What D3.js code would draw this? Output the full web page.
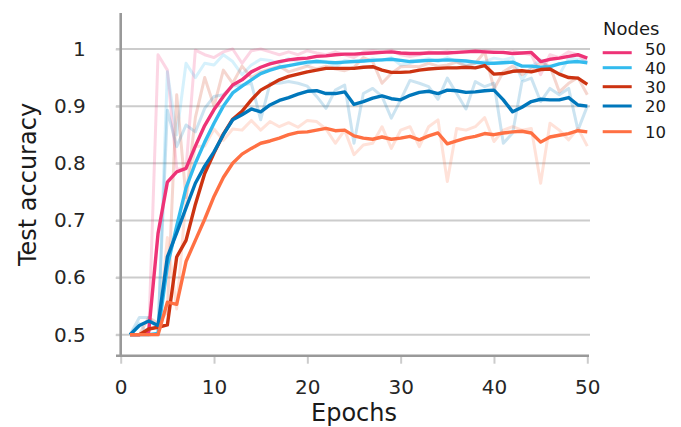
<!DOCTYPE html>
<html>
<head>
<meta charset="utf-8">
<script src="https://cdn.jsdelivr.net/npm/d3@7"></script>
<style>
  body { margin: 0; background: #fff; }
  svg { font-family: "DejaVu Sans", sans-serif; }
</style>
</head>
<body>
<svg id="chart" width="681" height="427"></svg>
<script>
// epochs on the x axis
const epochs = [1, 2, 3, 4, 5, 6, 7, 8, 9, 10, 11, 12, 13, 14, 15, 16, 17, 18, 19, 20,
  21, 22, 23, 24, 25, 26, 27, 28, 29, 30, 31, 32, 33, 34, 35, 36, 37, 38, 39, 40,
  41, 42, 43, 44, 45, 46, 47, 48, 49, 50]

// raw (faded) test accuracy per number of nodes
const raw50 = [0.5, 0.5, 0.5, 0.99, 0.963, 0.79, 0.79, 0.998, 0.99, 0.985, 0.995, 1.0, 0.975, 0.997, 1.0, 0.995, 0.99, 0.995, 0.99, 0.997,
  0.993, 0.99, 0.995, 0.99, 0.985, 0.995, 0.997, 0.995, 0.998, 0.99, 0.987, 0.99, 0.995, 0.993, 0.996, 0.993, 0.996, 0.996, 0.997, 0.995,
  0.993, 0.996, 0.993, 0.99, 0.955, 0.99, 0.985, 0.995, 0.99, 0.975]
const raw40 = [0.5, 0.52, 0.5, 0.5, 0.96, 0.85, 0.975, 0.95, 0.975, 0.972, 0.99, 0.978, 0.955, 0.972, 0.982, 0.98, 0.975, 0.983, 0.978, 0.972,
  0.98, 0.978, 0.968, 0.98, 0.978, 0.978, 0.983, 0.98, 0.985, 0.972, 0.975, 0.98, 0.983, 0.978, 0.985, 0.978, 0.972, 0.975, 0.978, 0.984,
  0.981, 0.985, 0.946, 0.969, 0.981, 0.966, 0.955, 0.984, 0.982, 0.978]
const raw30 = [0.5, 0.5, 0.53, 0.52, 0.54, 0.92, 0.74, 0.88, 0.95, 0.9, 0.963, 0.94, 0.97, 0.95, 0.96, 0.965, 0.97, 0.96, 0.965, 0.97,
  0.965, 0.97, 0.965, 0.962, 0.968, 0.985, 0.978, 0.94, 0.957, 0.969, 0.97, 0.969, 0.975, 0.97, 0.972, 0.977, 0.97, 0.975, 0.995, 0.93,
  0.96, 0.97, 0.955, 0.965, 0.975, 0.97, 0.925, 0.94, 0.95, 0.92]
const raw20 = [0.5, 0.53, 0.53, 0.51, 0.893, 0.829, 0.867, 0.855, 0.896, 0.917, 0.92, 0.935, 0.937, 0.94, 0.876, 0.94, 0.94, 0.943, 0.94, 0.935,
  0.917, 0.896, 0.928, 0.937, 0.835, 0.922, 0.931, 0.917, 0.879, 0.911, 0.945, 0.94, 0.934, 0.912, 0.949, 0.922, 0.895, 0.943, 0.934, 0.94,
  0.835, 0.853, 0.943, 0.949, 0.908, 0.931, 0.92, 0.931, 0.858, 0.9]
const raw10 = [0.5, 0.5, 0.5, 0.5, 0.67, 0.545, 0.74, 0.83, 0.83, 0.86, 0.84, 0.86, 0.858, 0.875, 0.858, 0.873, 0.864, 0.871, 0.863, 0.875,
  0.873, 0.86, 0.835, 0.858, 0.815, 0.832, 0.835, 0.864, 0.826, 0.858, 0.864, 0.829, 0.864, 0.876, 0.768, 0.861, 0.858, 0.864, 0.88, 0.838,
  0.858, 0.864, 0.858, 0.861, 0.765, 0.87, 0.858, 0.841, 0.861, 0.83]

// smoothed (bold) curves
const smooth50 = [0.5, 0.5, 0.505, 0.677, 0.767, 0.785, 0.791, 0.83, 0.866, 0.894, 0.917, 0.937, 0.946, 0.96, 0.968, 0.974, 0.978, 0.981, 0.983, 0.984,
  0.987, 0.988, 0.99, 0.991, 0.991, 0.992, 0.993, 0.994, 0.995, 0.993, 0.992, 0.992, 0.993, 0.993, 0.993, 0.994, 0.995, 0.996, 0.995, 0.994,
  0.994, 0.992, 0.993, 0.994, 0.978, 0.982, 0.984, 0.987, 0.99, 0.984]
const smooth40 = [0.5, 0.5, 0.5, 0.502, 0.62, 0.69, 0.757, 0.8, 0.837, 0.87, 0.9, 0.923, 0.935, 0.946, 0.957, 0.963, 0.968, 0.971, 0.974, 0.977,
  0.978, 0.977, 0.976, 0.977, 0.978, 0.979, 0.98, 0.981, 0.982, 0.98, 0.978, 0.979, 0.98, 0.98, 0.981, 0.98, 0.979, 0.977, 0.975, 0.975,
  0.976, 0.977, 0.97, 0.97, 0.968, 0.969, 0.974, 0.977, 0.978, 0.976]
const smooth30 = [0.5, 0.5, 0.51, 0.513, 0.517, 0.636, 0.665, 0.728, 0.782, 0.818, 0.851, 0.877, 0.891, 0.911, 0.928, 0.937, 0.946, 0.952, 0.956, 0.96,
  0.963, 0.966, 0.966, 0.966, 0.966, 0.968, 0.969, 0.963, 0.959, 0.959, 0.96, 0.963, 0.965, 0.966, 0.967, 0.967, 0.968, 0.967, 0.971, 0.956,
  0.957, 0.961, 0.962, 0.96, 0.964, 0.965, 0.956, 0.95, 0.949, 0.938]
const smooth20 = [0.5, 0.516, 0.524, 0.516, 0.636, 0.678, 0.722, 0.765, 0.795, 0.82, 0.85, 0.876, 0.885, 0.895, 0.89, 0.902, 0.91, 0.915, 0.921, 0.926,
  0.927, 0.922, 0.922, 0.925, 0.903, 0.908, 0.914, 0.918, 0.913, 0.911, 0.919, 0.924, 0.926, 0.922, 0.928, 0.927, 0.924, 0.925, 0.927, 0.928,
  0.911, 0.89, 0.898, 0.908, 0.912, 0.911, 0.911, 0.915, 0.902, 0.9]
const smooth10 = [0.5, 0.5, 0.5, 0.5, 0.557, 0.553, 0.628, 0.665, 0.702, 0.742, 0.775, 0.8, 0.816, 0.826, 0.835, 0.839, 0.844, 0.85, 0.854, 0.855,
  0.858, 0.861, 0.857, 0.858, 0.848, 0.844, 0.842, 0.846, 0.842, 0.844, 0.847, 0.841, 0.848, 0.853, 0.834, 0.839, 0.844, 0.847, 0.852, 0.85,
  0.853, 0.855, 0.856, 0.853, 0.837, 0.846, 0.849, 0.852, 0.857, 0.855]

const nodeLabels = ['50', '40', '30', '20', '10']
const colors = ['#ee3377', '#33bbee', '#cc3311', '#0077bb', '#ff7043']
const rawSeries = [raw50, raw40, raw30, raw20, raw10]
const smoothSeries = [smooth50, smooth40, smooth30, smooth20, smooth10]

const xTicks = [0, 10, 20, 30, 40, 50]
const yTicks = [0.5, 0.6, 0.7, 0.8, 0.9, 1.0]

const svg = d3.select('#chart')

// scales
const x = d3.scaleLinear().domain([0, 50]).range([120.7, 587.3])
const y = d3.scaleLinear().domain([0.4632, 1.063]).range([355.7, 13])

// horizontal grid
svg.append('g')
  .selectAll('line')
  .data(yTicks)
  .join('line')
  .attr('x1', 116).attr('x2', 590)
  .attr('y1', d => y(d)).attr('y2', d => y(d))
  .attr('stroke', '#cccccc')
  .attr('stroke-width', 2)

// x axis
const xAxis = svg.append('g')
  .attr('transform', 'translate(0,355.7)')
  .call(d3.axisBottom(x).tickValues(xTicks).tickSize(8).tickPadding(16).tickFormat(d3.format('d')))
xAxis.select('.domain').remove()
xAxis.selectAll('.tick line').attr('stroke', '#cccccc').attr('stroke-width', 2)
xAxis.selectAll('.tick text')
  .attr('fill', '#262626')
  .style('font-size', '20px')
  .style('font-family', '"DejaVu Sans", sans-serif')

// y axis
const yAxis = svg.append('g')
  .attr('transform', 'translate(120.7,0)')
  .call(d3.axisLeft(y).tickValues(yTicks).tickSize(5).tickPadding(30)
    .tickFormat(d => d === 1 ? '1' : d.toFixed(1)))
yAxis.select('.domain').remove()
yAxis.selectAll('.tick line').attr('stroke', '#cccccc').attr('stroke-width', 2)
yAxis.selectAll('.tick text')
  .attr('fill', '#262626')
  .style('font-size', '20px')
  .style('font-family', '"DejaVu Sans", sans-serif')

const line = d3.line()
  .x((d, i) => x(epochs[i]))
  .y(d => y(d))

// faded raw curves
svg.append('g')
  .selectAll('path')
  .data(rawSeries)
  .join('path')
  .attr('d', line)
  .attr('fill', 'none')
  .attr('stroke', (d, i) => colors[i])
  .attr('stroke-opacity', 0.2)
  .attr('stroke-width', 3)
  .attr('stroke-linejoin', 'round')

// smoothed curves, 50 first so 10 ends up on top
svg.append('g')
  .selectAll('path')
  .data(smoothSeries)
  .join('path')
  .attr('d', line)
  .attr('fill', 'none')
  .attr('stroke', (d, i) => colors[i])
  .attr('stroke-width', 3.4)
  .attr('stroke-linejoin', 'round')

// spines
svg.append('line')
  .attr('x1', 120.7).attr('x2', 120.7)
  .attr('y1', 13).attr('y2', 357)
  .attr('stroke', '#999999').attr('stroke-width', 2.6)
svg.append('line')
  .attr('x1', 116).attr('x2', 589)
  .attr('y1', 355.7).attr('y2', 355.7)
  .attr('stroke', '#999999').attr('stroke-width', 2.6)

// axis labels
svg.append('text')
  .attr('x', 354).attr('y', 421)
  .attr('text-anchor', 'middle')
  .attr('fill', '#1a1a1a')
  .style('font-size', '24px')
  .text('Epochs')

svg.append('text')
  .attr('transform', 'translate(36,184.5) rotate(-90)')
  .attr('text-anchor', 'middle')
  .attr('fill', '#1a1a1a')
  .style('font-size', '24px')
  .text('Test accuracy')

// legend
const sampleRows = [52.7, 67.7, 86.7, 106, 131.7]
const labelRows = [55, 73.6, 92.8, 111.8, 138]
const legend = svg.append('g')
legend.append('text')
  .attr('x', 603).attr('y', 35)
  .attr('fill', '#1a1a1a')
  .style('font-size', '18px')
  .text('Nodes')

const entry = legend.selectAll('g.entry')
  .data(nodeLabels)
  .join('g')
  .attr('class', 'entry')
entry.append('line')
  .attr('x1', 602.7).attr('x2', 631.7)
  .attr('y1', (d, i) => sampleRows[i]).attr('y2', (d, i) => sampleRows[i])
  .attr('stroke', (d, i) => colors[i])
  .attr('stroke-width', 3)
entry.append('text')
  .attr('x', 645)
  .attr('y', (d, i) => labelRows[i])
  .attr('fill', '#1a1a1a')
  .style('font-size', '16.5px')
  .text(d => d)
</script>
</body>
</html>
